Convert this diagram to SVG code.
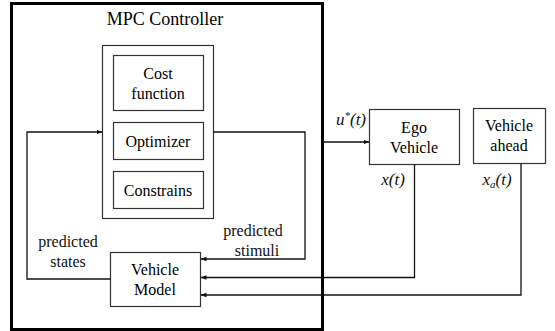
<svg xmlns="http://www.w3.org/2000/svg" width="555" height="331" viewBox="0 0 555 331">
<defs>
<marker id="ah" markerWidth="6" markerHeight="6" refX="5.5" refY="3" orient="auto" markerUnits="userSpaceOnUse">
<path d="M0,0.8 L6,3 L0,5.2 Z" fill="#111"/>
</marker>
</defs>
<rect width="555" height="331" fill="#fff"/>
<g font-family="Liberation Serif" font-size="16" text-anchor="middle">
<g id="mpc">
<rect x="11.5" y="3.5" width="311" height="326" fill="none" stroke="#000" stroke-width="3"/>
<text x="165" y="25" font-size="18">MPC Controller</text>
</g>
<g id="optimizer-block">
<rect x="102.5" y="45.5" width="111" height="173" fill="#fff" stroke="#333" stroke-width="1.2"/>
</g>
<g id="cost">
<rect x="113.5" y="55.5" width="90" height="55" fill="#fff" stroke="#333" stroke-width="1.2"/>
<text x="158" y="79">Cost</text>
<text x="158" y="99">function</text>
</g>
<g id="optimizer">
<rect x="113.5" y="122.5" width="90" height="37" fill="#fff" stroke="#333" stroke-width="1.2"/>
<text x="158" y="147">Optimizer</text>
</g>
<g id="constrains">
<rect x="113.5" y="171.5" width="90" height="37" fill="#fff" stroke="#333" stroke-width="1.2"/>
<text x="158" y="196">Constrains</text>
</g>
<g id="vehicle-model">
<rect x="110.5" y="252.5" width="90" height="54" fill="#fff" stroke="#333" stroke-width="1.2"/>
<text x="155" y="275">Vehicle</text>
<text x="155" y="295">Model</text>
</g>
<g id="ego">
<rect x="369.5" y="109.5" width="90" height="55" fill="#fff" stroke="#333" stroke-width="1.2"/>
<text x="414" y="133">Ego</text>
<text x="414" y="153">Vehicle</text>
</g>
<g id="ahead">
<rect x="473.5" y="108.5" width="72" height="55" fill="#fff" stroke="#333" stroke-width="1.2"/>
<text x="509" y="131">Vehicle</text>
<text x="509" y="151">ahead</text>
</g>
<g id="connectors" fill="none" stroke="#111" stroke-width="1.3">
<path d="M110.5,279 H27 V132 H102" marker-end="url(#ah)"/>
<path d="M213.5,132 H305 V259 H201" marker-end="url(#ah)"/>
<path d="M322,142 H369" marker-end="url(#ah)"/>
<path d="M414.5,164.5 V277.5 H201" marker-end="url(#ah)"/>
<path d="M521,163.5 V295 H201" marker-end="url(#ah)"/>
</g>
<g id="labels" fill="#111">
<text x="68" y="247">predicted</text>
<text x="68" y="267">states</text>
<text x="253" y="236">predicted</text>
<text x="257" y="256">stimuli</text>
<text x="351" y="125" font-style="italic" font-size="17">u<tspan font-size="11" dy="-6">*</tspan><tspan dy="6">(t)</tspan></text>
<text x="393" y="185" font-style="italic" font-size="17">x(t)</text>
<text x="497" y="185" font-style="italic" font-size="17">x<tspan font-size="11" dy="3">a</tspan><tspan dy="-3">(t)</tspan></text>
</g>
</g>
</svg>
